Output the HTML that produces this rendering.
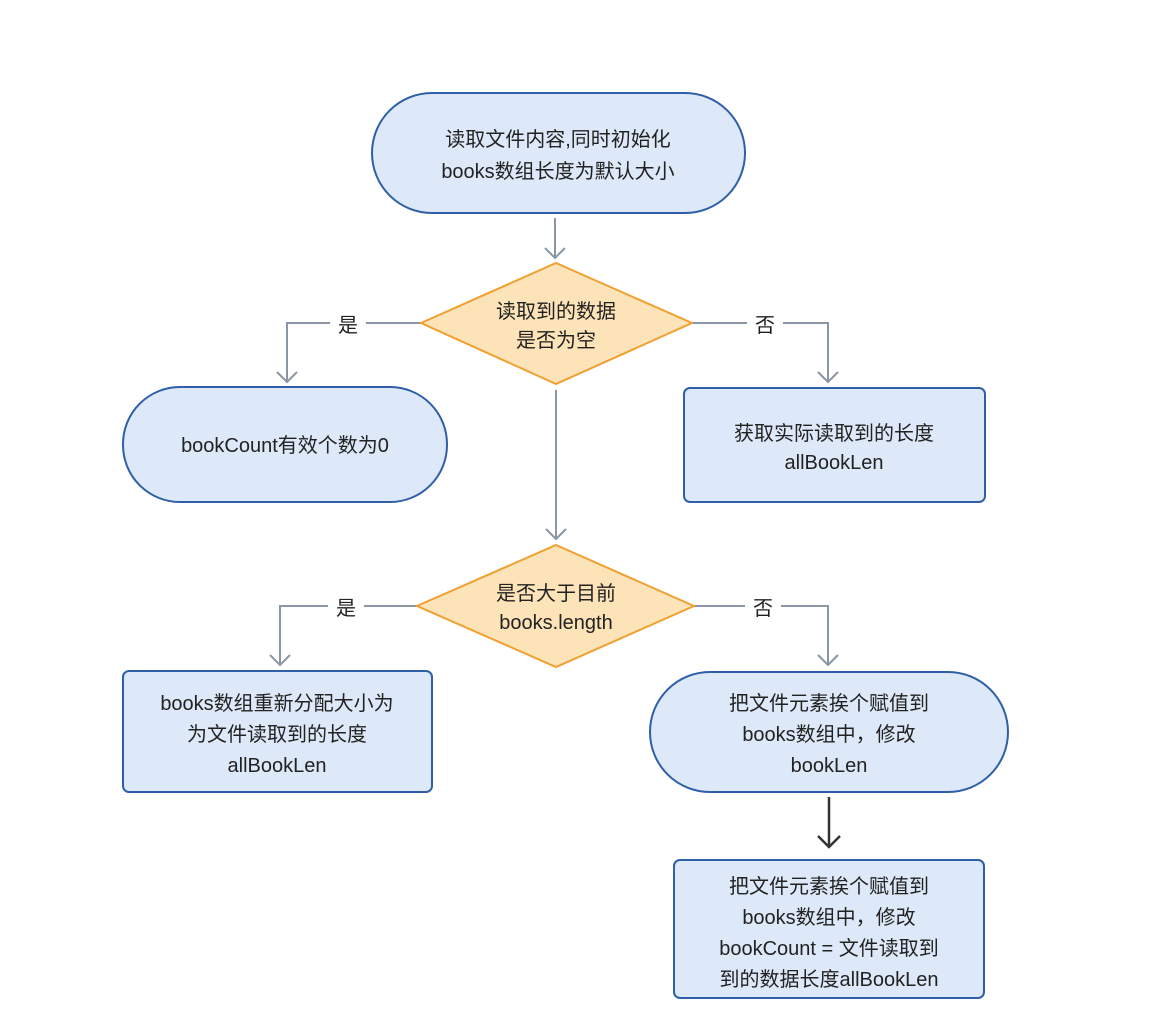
<!DOCTYPE html>
<html><head><meta charset="utf-8"><style>
html,body{margin:0;padding:0;background:#fff;}
text{font-family:"Liberation Sans","Noto Sans CJK SC",sans-serif;font-size:20px;fill:#222;text-anchor:middle;}
</style></head><body>
<svg width="1152" height="1022" viewBox="0 0 1152 1022" xmlns="http://www.w3.org/2000/svg">
<g fill="none" stroke="#8a96a6" stroke-width="2">
<path d="M555 218V258M545 248L555 258L565 248"/>
<path d="M421 323H287V382M277 372L287 382L297 372"/>
<path d="M692 323H828V382M818 372L828 382L838 372"/>
<path d="M556 390V539M546 529L556 539L566 529"/>
<path d="M417 606H280V665M270 655L280 665L290 655"/>
<path d="M694 606H828V665M818 655L828 665L838 655"/>
</g>
<rect x="330" y="312" width="36" height="26" fill="#fff"/>
<rect x="747" y="312" width="36" height="26" fill="#fff"/>
<rect x="328" y="595" width="36" height="26" fill="#fff"/>
<rect x="745" y="595" width="36" height="26" fill="#fff"/>
<text x="348" y="332">是</text><text x="765" y="332">否</text>
<text x="346" y="615">是</text><text x="763" y="615">否</text>
<g fill="none" stroke="#333" stroke-width="2.5"><path d="M829 797V847M818 836L829 847L840 836"/></g>
<g fill="#dde9f8" stroke="#2f5fa8" stroke-width="2">
<rect x="372" y="93" width="373" height="120" rx="60"/>
<rect x="123" y="387" width="324" height="115" rx="57"/>
<rect x="684" y="388" width="301" height="114" rx="6"/>
<rect x="123" y="671" width="309" height="121" rx="6"/>
<rect x="650" y="672" width="358" height="120" rx="60"/>
<rect x="674" y="860" width="310" height="138" rx="6"/>
</g>
<g fill="#fde3b8" stroke="#f0a030" stroke-width="2">
<polygon points="556,263 692,323 556,384 421,323"/>
<polygon points="556,545 694,606 556,667 417,606"/>
</g>
<text x="558" y="146">读取文件内容,同时初始化</text>
<text x="558" y="178">books数组长度为默认大小</text>
<text x="556" y="318">读取到的数据</text>
<text x="556" y="347">是否为空</text>
<text x="285" y="452">bookCount有效个数为0</text>
<text x="834" y="440">获取实际读取到的长度</text>
<text x="834" y="469">allBookLen</text>
<text x="556" y="600">是否大于目前</text>
<text x="556" y="629">books.length</text>
<text x="277" y="710">books数组重新分配大小为</text>
<text x="277" y="741">为文件读取到的长度</text>
<text x="277" y="772">allBookLen</text>
<text x="829" y="710">把文件元素挨个赋值到</text>
<text x="829" y="741">books数组中，修改</text>
<text x="829" y="772">bookLen</text>
<text x="829" y="893">把文件元素挨个赋值到</text>
<text x="829" y="924">books数组中，修改</text>
<text x="829" y="955">bookCount = 文件读取到</text>
<text x="829" y="986">到的数据长度allBookLen</text>
</svg>
</body></html>
